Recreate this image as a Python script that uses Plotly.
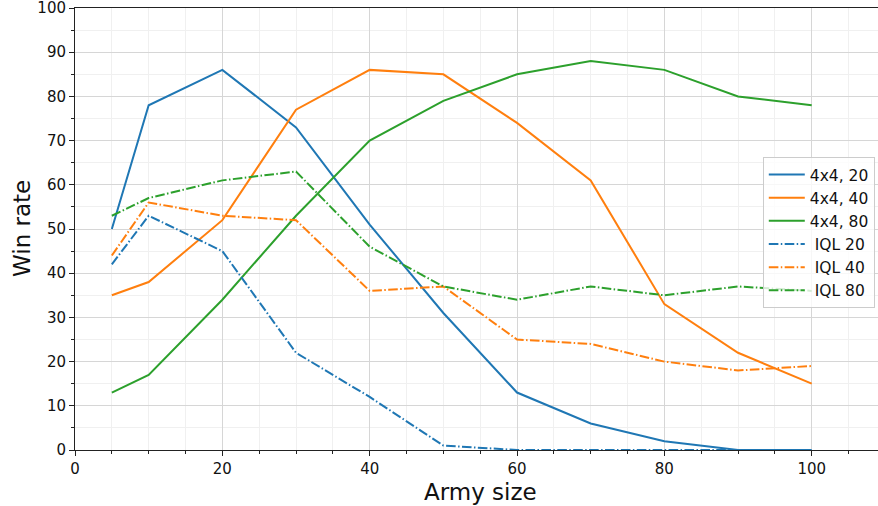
import plotly.graph_objects as go

army_size = [5, 10, 20, 30, 40, 50, 60, 70, 80, 90, 100]
win_4x4_20 = [50, 78, 86, 73, 51, 31, 13, 6, 2, 0, 0]
win_4x4_40 = [35, 38, 52, 77, 86, 85, 74, 61, 33, 22, 15]
win_4x4_80 = [13, 17, 34, 53, 70, 79, 85, 88, 86, 80, 78]
win_iql_20 = [42, 53, 45, 22, 12, 1, 0, 0, 0, 0, 0]
win_iql_40 = [44, 56, 53, 52, 36, 37, 25, 24, 20, 18, 19]
win_iql_80 = [53, 57, 61, 63, 46, 37, 34, 37, 35, 37, 36]

names = ["4x4, 20", "4x4, 40", "4x4, 80", " IQL 20", " IQL 40", " IQL 80"]
series = [win_4x4_20, win_4x4_40, win_4x4_80, win_iql_20, win_iql_40, win_iql_80]
colors = ["#1f77b4", "#ff7f0e", "#2ca02c"] * 2
dashes = ["solid"] * 3 + ["9.6px,2.4px,1.5px,2.4px"] * 3

fig = go.Figure()
for n, s, c, d in zip(names, series, colors, dashes):
    fig.add_trace(go.Scatter(x=army_size, y=s, name=n, mode="lines",
                             line=dict(color=c, width=2, dash=d), cliponaxis=False))

font = "DejaVu Sans, sans-serif"
fig.update_layout(
    width=878, height=506,
    margin=dict(l=75, r=0, t=8, b=56, autoexpand=False),
    plot_bgcolor="white", paper_bgcolor="white",
    font=dict(family=font, color="#111"),
    legend=dict(x=0.996, y=0.663, xanchor="right", yanchor="top",
                bgcolor="rgba(255,255,255,0.8)", bordercolor="#cccccc", borderwidth=1,
                font=dict(size=15.5, family=font, color="#111"), tracegroupgap=0,
                itemwidth=36),
    xaxis=dict(range=[0, 109], dtick=20, tick0=0, ticks="outside", ticklen=5, tickwidth=1,
               tickcolor="#222", showline=True, linecolor="#222", linewidth=1, mirror=True,
               showgrid=True, gridcolor="#d6d6d6", gridwidth=1, zeroline=False,
               tickfont=dict(size=15, color="#111"), automargin=False, ticklabeloverflow="allow",
               minor=dict(dtick=5, tick0=0, ticks="outside", ticklen=3, tickcolor="#222",
                          showgrid=True, gridcolor="#f0f0f0", gridwidth=1)),
    yaxis=dict(range=[0, 100], dtick=10, tick0=0, ticks="outside", ticklen=5, tickwidth=1,
               tickcolor="#222", showline=True, linecolor="#222", linewidth=1,
               showgrid=True, gridcolor="#d6d6d6", gridwidth=1, zeroline=False,
               tickfont=dict(size=15, color="#111"), automargin=False, ticklabeloverflow="allow",
               minor=dict(dtick=5, tick0=0, ticks="outside", ticklen=3, tickcolor="#222",
                          showgrid=True, gridcolor="#f0f0f0", gridwidth=1)),
    annotations=[
        dict(text="Army size", xref="paper", yref="paper", x=0.5045, y=0, yshift=-42,
             xanchor="center", yanchor="middle", showarrow=False,
             font=dict(size=23, family=font, color="#111")),
        dict(text="Win rate", xref="paper", yref="paper", x=0, xshift=-53, y=0.5,
             xanchor="center", yanchor="middle", textangle=-90, showarrow=False,
             font=dict(size=23, family=font, color="#111")),
    ],
)
fig.write_html("out.html", config={"displayModeBar": False},
               post_script="document.body.style.margin='0';document.body.style.padding='0';")
